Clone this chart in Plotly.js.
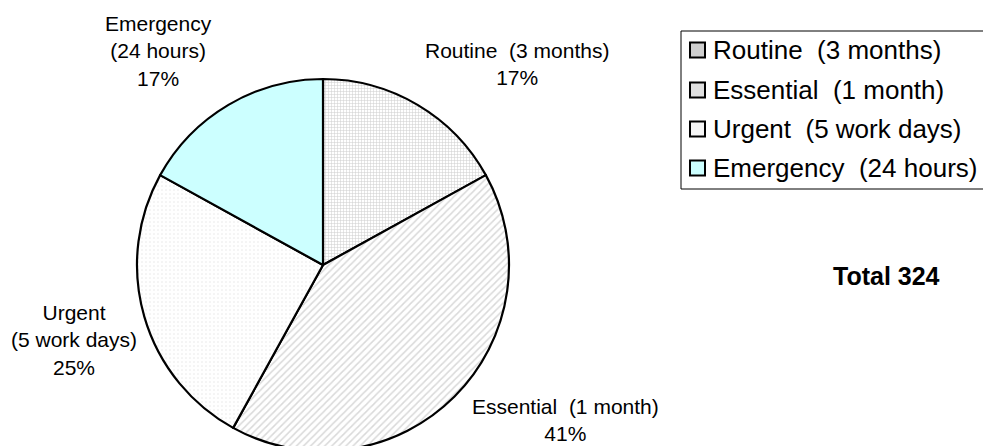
<!DOCTYPE html>
<html>
<head>
<meta charset="utf-8">
<script src="https://cdn.plot.ly/plotly-3.0.1.min.js"></script>
<style>
html, body { margin: 0; padding: 0; width: 983px; height: 446px; overflow: hidden; background: #fff; }
#chart { width: 983px; height: 460px; }
</style>
</head>
<body>
<div id="chart"></div>
<script>
// ---- data ----
const categories = ['Routine  (3 months)', 'Essential  (1 month)', 'Urgent  (5 work days)', 'Emergency  (24 hours)'];
const sliceLabelLines = ['Routine  (3 months)', 'Essential  (1 month)', 'Urgent<br>(5 work days)', 'Emergency<br>(24 hours)'];
const values = [55, 133, 81, 55];
const totalLabel = 'Total';

// ---- styles ----
const W = 983, H = 460;
const nb = s => s.replace(/  /g, '\u00a0\u00a0');
const px = x => x / W;
const py = y => (H - y) / H;

const sliceFg = ['#a0a0a0', '#b4b4b4', '#cccccc', '#ccffff'];
const sliceBg = ['#ffffff', '#ffffff', '#ffffff', '#ccffff'];
const sliceShape = ['+', '/', '.', ''];
const sliceSize = [3, 5, 4, 8];
const sliceSolidity = [0.33, 0.3, 0.12, 0.3];
const swatchFill = ['#cfcfcf', '#e0e0e0', '#f6f6f6', '#ccffff'];

// label positions (pixel centers)
const labelPos = [[517, 64], [565, 420], [74, 340], [158, 51]];
// legend geometry
const legendRows = [50, 90, 129, 168];

const total = values.reduce((a, b) => a + b, 0);

const trace = {
  type: 'pie',
  labels: categories.map(nb),
  values: values,
  sort: false,
  direction: 'clockwise',
  rotation: 0,
  textinfo: 'none',
  hoverinfo: 'none',
  showlegend: false,
  domain: { x: [px(137), px(509)], y: [py(451), py(79)] },
  marker: {
    colors: sliceBg,
    line: { color: '#000000', width: 2.2 },
    pattern: {
      shape: sliceShape,
      fgcolor: sliceFg,
      bgcolor: sliceBg,
      size: sliceSize,
      solidity: sliceSolidity,
      fillmode: 'overlay'
    }
  }
};

const font = { family: '"Liberation Sans", Arial, sans-serif', color: '#000000' };
const annotations = [];
const shapes = [];

values.forEach((v, i) => {
  const pct = Math.round(v / total * 100) + '%';
  annotations.push({
    xref: 'paper', yref: 'paper',
    x: px(labelPos[i][0]), y: py(labelPos[i][1]),
    xanchor: 'center', yanchor: 'middle',
    text: nb(sliceLabelLines[i]) + '<br>' + pct,
    showarrow: false,
    align: 'center',
    font: Object.assign({ size: 21 }, font)
  });
});

// legend box
shapes.push({
  type: 'rect', xref: 'paper', yref: 'paper',
  x0: px(681), x1: px(995), y0: py(189), y1: py(31),
  line: { color: '#000000', width: 1 }, fillcolor: 'rgba(0,0,0,0)'
});
categories.forEach((c, i) => {
  const yc = legendRows[i];
  shapes.push({
    type: 'rect', xref: 'paper', yref: 'paper',
    x0: px(690), x1: px(705), y0: py(yc + 7.5), y1: py(yc - 7.5),
    line: { color: '#000000', width: 2 }, fillcolor: swatchFill[i]
  });
  annotations.push({
    xref: 'paper', yref: 'paper',
    x: px(711), y: py(yc),
    xanchor: 'left', yanchor: 'middle',
    text: nb(c), showarrow: false,
    font: Object.assign({ size: 26 }, font)
  });
});

annotations.push({
  xref: 'paper', yref: 'paper',
  x: px(886), y: py(276),
  xanchor: 'center', yanchor: 'middle',
  text: '<b>' + totalLabel + ' ' + total + '</b>',
  showarrow: false,
  font: Object.assign({ size: 25 }, font)
});

const layout = {
  width: W, height: H,
  margin: { l: 0, r: 0, t: 0, b: 0 },
  paper_bgcolor: '#ffffff',
  plot_bgcolor: '#ffffff',
  showlegend: false,
  annotations: annotations,
  shapes: shapes
};

Plotly.newPlot('chart', [trace], layout, { staticPlot: true, displayModeBar: false });
</script>
</body>
</html>
